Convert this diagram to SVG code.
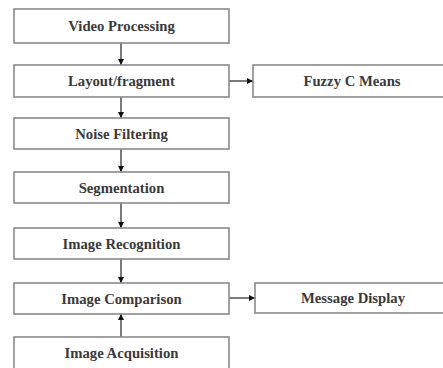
<svg xmlns="http://www.w3.org/2000/svg" width="443" height="368" viewBox="0 0 443 368">
<defs>
<style>
.box{fill:#fff;stroke:#8a8a8a;stroke-width:1.6}
.lbl{font-family:"Liberation Serif",serif;font-weight:bold;font-size:14.7px;fill:#3a3a3a;text-anchor:middle}
.conn{stroke:#222;stroke-width:1.2;fill:none;marker-end:url(#ah)}
</style>
<marker id="ah" viewBox="0 0 10 10" refX="10" refY="5" markerWidth="6" markerHeight="6" markerUnits="userSpaceOnUse" orient="auto">
<path d="M0,0 L10,5 L0,10 z" fill="#111"/>
</marker>
</defs>
<rect width="443" height="368" fill="#fff"/>
<g id="connectors">
<line class="conn" x1="121" y1="43" x2="121" y2="65"/>
<line class="conn" x1="121" y1="97" x2="121" y2="118"/>
<line class="conn" x1="121" y1="149" x2="121" y2="172"/>
<line class="conn" x1="121" y1="203" x2="121" y2="228"/>
<line class="conn" x1="121" y1="259" x2="121" y2="283"/>
<line class="conn" x1="121" y1="337" x2="121" y2="314"/>
<line class="conn" x1="229" y1="81" x2="253" y2="81"/>
<line class="conn" x1="229" y1="298" x2="255" y2="298"/>
</g>
<g id="video-processing"><rect class="box" x="14" y="9" width="215" height="34"/><text class="lbl" x="121.5" y="31">Video Processing</text></g>
<g id="layout-fragment"><rect class="box" x="14" y="65" width="215" height="32"/><text class="lbl" x="121.5" y="86">Layout/fragment</text></g>
<g id="noise-filtering"><rect class="box" x="14" y="118" width="215" height="31"/><text class="lbl" x="121.5" y="138.5">Noise Filtering</text></g>
<g id="segmentation"><rect class="box" x="14" y="172" width="215" height="31"/><text class="lbl" x="121.5" y="192.5">Segmentation</text></g>
<g id="image-recognition"><rect class="box" x="14" y="228" width="215" height="31"/><text class="lbl" x="121.5" y="248.5">Image Recognition</text></g>
<g id="image-comparison"><rect class="box" x="14" y="283" width="215" height="31"/><text class="lbl" x="121.5" y="303.5">Image Comparison</text></g>
<g id="image-acquisition"><rect class="box" x="14" y="337" width="215" height="32"/><text class="lbl" x="121.5" y="358">Image Acquisition</text></g>
<g id="fuzzy-c-means"><rect class="box" x="253" y="65" width="200" height="32"/><text class="lbl" x="352" y="86">Fuzzy C Means</text></g>
<g id="message-display"><rect class="box" x="255" y="283" width="200" height="30"/><text class="lbl" x="353" y="303">Message Display</text></g>
</svg>
